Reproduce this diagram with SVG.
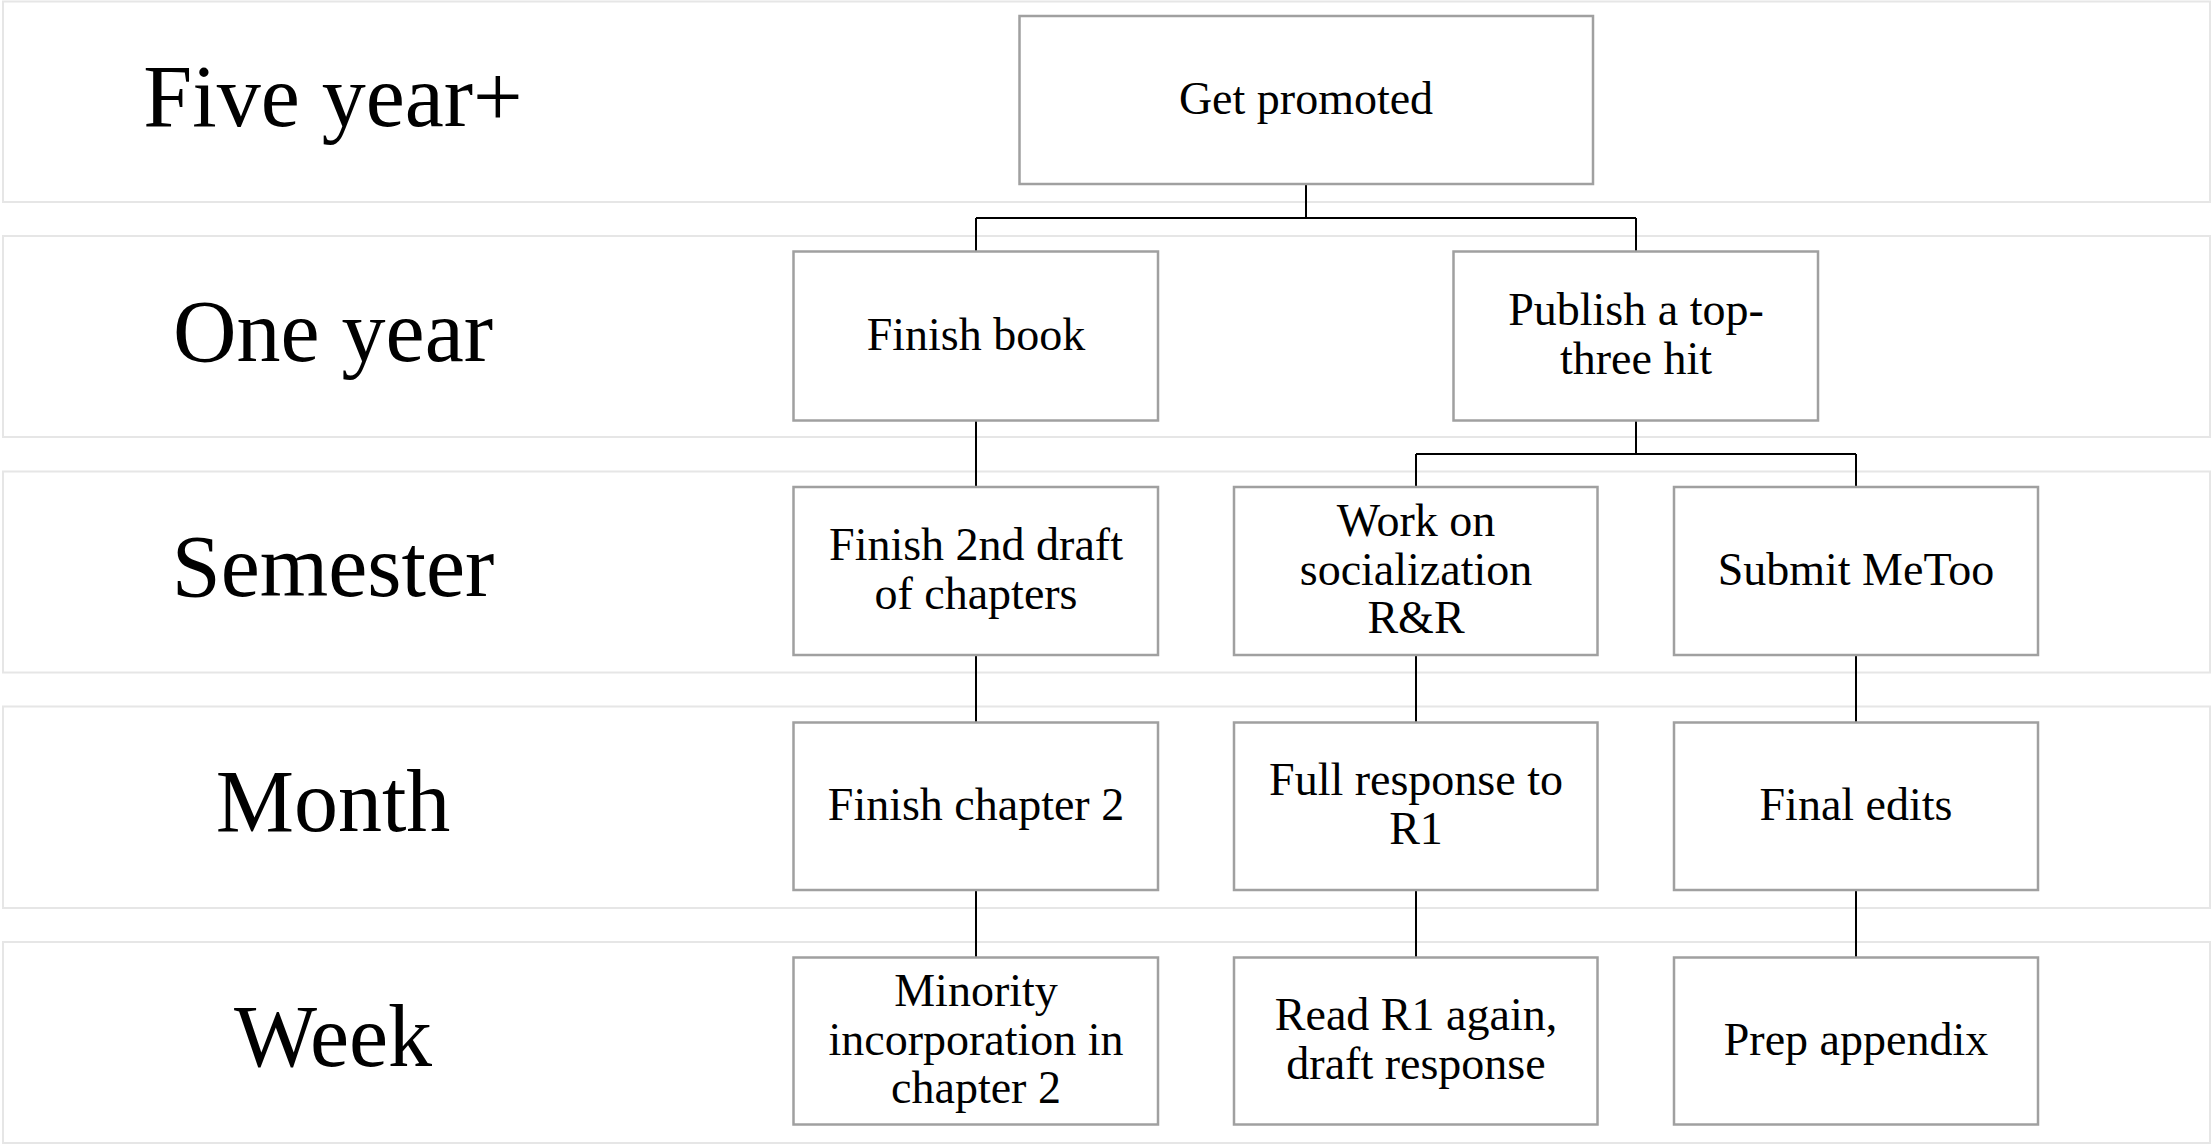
<svg xmlns="http://www.w3.org/2000/svg" width="2211" height="1144" viewBox="0 0 2211 1144">
<style>
.band{fill:#ffffff;stroke:#e6e6e6;stroke-width:2}
.box{fill:#ffffff;stroke:#a0a0a0;stroke-width:2.5}
.lbl{font-family:"Liberation Serif","DejaVu Serif",serif;font-size:88px;fill:#000;text-anchor:middle}
.t{font-family:"Liberation Serif","DejaVu Serif",serif;font-size:46px;fill:#000;text-anchor:middle}
.conn{fill:none;stroke:#000;stroke-width:2}
</style>
<rect width="2211" height="1144" fill="#ffffff"/>
<g id="bands">
<g id="band-five"><rect class="band" x="3" y="1.5" width="2207" height="200.5"/><text class="lbl" x="333" y="125.5">Five year+</text></g>
<g id="band-one"><rect class="band" x="3" y="236" width="2207" height="201"/><text class="lbl" x="333" y="360.5">One year</text></g>
<g id="band-semester"><rect class="band" x="3" y="471.5" width="2207" height="201"/><text class="lbl" x="333" y="596">Semester</text></g>
<g id="band-month"><rect class="band" x="3" y="706.5" width="2207" height="201.5"/><text class="lbl" x="333" y="831">Month</text></g>
<g id="band-week"><rect class="band" x="3" y="942" width="2207" height="201"/><text class="lbl" x="333" y="1066">Week</text></g>
</g>
<g id="connectors">
<path class="conn" d="M1306,184 V218 M976,218 H1636 M976,218 V251.5 M1636,218 V251.5"/>
<path class="conn" d="M976,420.5 V487"/>
<path class="conn" d="M1636,420.5 V454 M1416,454 H1856 M1416,454 V487 M1856,454 V487"/>
<path class="conn" d="M976,655 V722.5 M976,890 V957.5"/>
<path class="conn" d="M1416,655 V722.5 M1416,890 V957.5"/>
<path class="conn" d="M1856,655 V722.5 M1856,890 V957.5"/>
</g>
<g id="n-promoted"><rect class="box" x="1019.5" y="16" width="573.5" height="168"/><text class="t" x="1306" y="114">Get promoted</text></g>
<g id="n-book"><rect class="box" x="793.5" y="251.5" width="364.5" height="169"/><text class="t" x="976" y="350">Finish book</text></g>
<g id="n-publish"><rect class="box" x="1453.5" y="251.5" width="364.5" height="169"/><text class="t" x="1636" y="325">Publish a top-</text><text class="t" x="1636" y="373.5">three hit</text></g>
<g id="n-draft"><rect class="box" x="793.5" y="487" width="364.5" height="168"/><text class="t" x="976" y="560">Finish 2nd draft</text><text class="t" x="976" y="608.5">of chapters</text></g>
<g id="n-work"><rect class="box" x="1234" y="487" width="363.5" height="168"/><text class="t" x="1416" y="536">Work on</text><text class="t" x="1416" y="584.5">socialization</text><text class="t" x="1416" y="633">R&amp;R</text></g>
<g id="n-metoo"><rect class="box" x="1674" y="487" width="364" height="168"/><text class="t" x="1856" y="585">Submit MeToo</text></g>
<g id="n-ch2"><rect class="box" x="793.5" y="722.5" width="364.5" height="167.5"/><text class="t" x="976" y="820">Finish chapter 2</text></g>
<g id="n-full"><rect class="box" x="1234" y="722.5" width="363.5" height="167.5"/><text class="t" x="1416" y="795">Full response to</text><text class="t" x="1416" y="843.5">R1</text></g>
<g id="n-edits"><rect class="box" x="1674" y="722.5" width="364" height="167.5"/><text class="t" x="1856" y="820">Final edits</text></g>
<g id="n-minority"><rect class="box" x="793.5" y="957.5" width="364.5" height="167"/><text class="t" x="976" y="1006">Minority</text><text class="t" x="976" y="1054.5">incorporation in</text><text class="t" x="976" y="1103">chapter 2</text></g>
<g id="n-read"><rect class="box" x="1234" y="957.5" width="363.5" height="167"/><text class="t" x="1416" y="1030">Read R1 again,</text><text class="t" x="1416" y="1078.5">draft response</text></g>
<g id="n-appendix"><rect class="box" x="1674" y="957.5" width="364" height="167"/><text class="t" x="1856" y="1055">Prep appendix</text></g>
</svg>
